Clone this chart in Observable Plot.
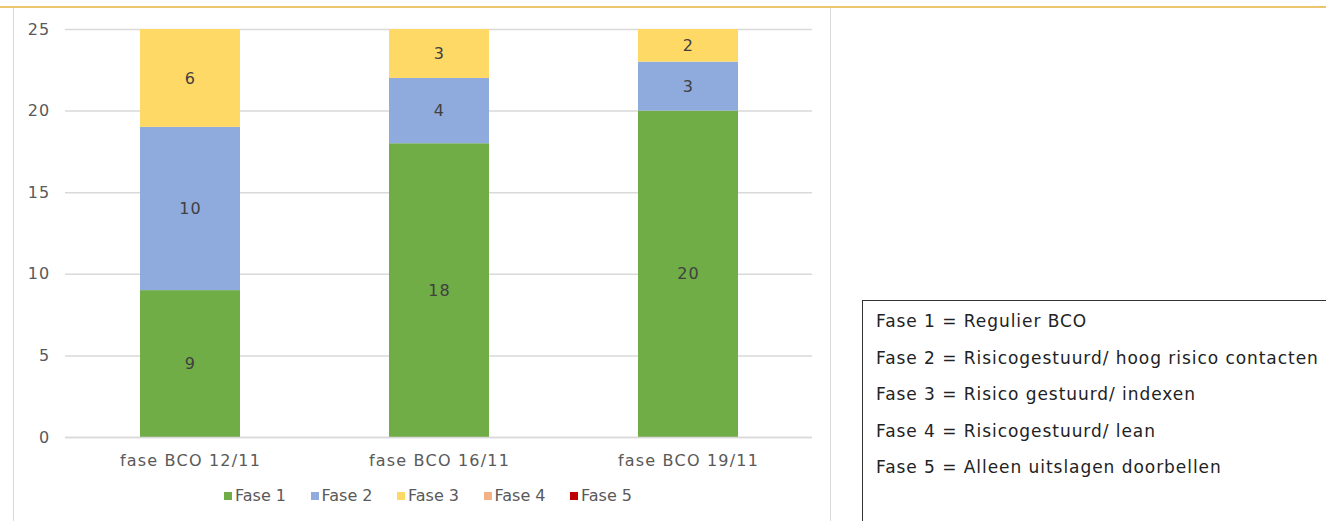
<!DOCTYPE html>
<html>
<head>
<meta charset="utf-8">
<script src="https://cdn.jsdelivr.net/npm/d3@7"></script>
<script src="https://cdn.jsdelivr.net/npm/@observablehq/plot@0.6"></script>
<style>
  html, body { margin: 0; padding: 0; background: #fff; }
  body { width: 1326px; height: 521px; position: relative; overflow: hidden; font-family: "DejaVu Sans", Verdana, sans-serif; }
  #topline { position: absolute; left: 0; top: 6px; width: 1326px; height: 2px; background: #EBC66E; }
  #lborder { position: absolute; left: 13px; top: 8px; width: 1px; height: 520px; background: #D9D9D9; }
  #rborder { position: absolute; left: 830px; top: 8px; width: 1px; height: 520px; background: #D9D9D9; }
  #chart { position: absolute; left: 0; top: 0; }
  #chart svg text { letter-spacing: 1.2px; }
  #legend { position: absolute; top: 486px; left: 224px; display: flex; font-size: 16px; color: #595959; }
  #legend .item { display: flex; align-items: center; width: 86.5px; white-space: nowrap; }
  #legend .sw { width: 8px; height: 8px; margin-right: 3px; flex: none; }
  #box { position: absolute; left: 862px; top: 300px; width: 500px; height: 260px; border: 1px solid #333; box-sizing: border-box; padding: 2px 0 0 13px; font-size: 17px; letter-spacing: 0.95px; color: #222; }
  #box div { height: 36.5px; line-height: 36.5px; white-space: nowrap; }
</style>
</head>
<body>
<div id="topline"></div>
<div id="lborder"></div>
<div id="rborder"></div>
<div id="chart"></div>
<div id="legend"></div>
<div id="box"></div>
<script>
const categories = ["fase BCO 12/11", "fase BCO 16/11", "fase BCO 19/11"];
const phases = ["Fase 1", "Fase 2", "Fase 3", "Fase 4", "Fase 5"];
const fase1 = [9, 18, 20];
const fase2 = [10, 4, 3];
const fase3 = [6, 3, 2];
const fase4 = [0, 0, 0];
const fase5 = [0, 0, 0];
const colors = ["#70AD47", "#8FAADC", "#FFD966", "#F4B183", "#C00000"];
const yTicks = [0, 5, 10, 15, 20, 25];
const phaseDescriptions = [
  "Fase 1 = Regulier BCO",
  "Fase 2 = Risicogestuurd/ hoog risico contacten",
  "Fase 3 = Risico gestuurd/ indexen",
  "Fase 4 = Risicogestuurd/ lean",
  "Fase 5 = Alleen uitslagen doorbellen"
];

const series = [fase1, fase2, fase3, fase4, fase5];
const data = [];
categories.forEach((c, i) => {
  series.forEach((s, j) => {
    if (s[i] > 0) data.push({category: c, phase: phases[j], value: s[i]});
  });
});

const plot = Plot.plot({
  width: 1326,
  height: 521,
  marginLeft: 65,
  marginRight: 514,
  marginTop: 29,
  marginBottom: 84,
  style: {fontFamily: "'DejaVu Sans', Verdana, sans-serif", fontSize: "16px", color: "#595959", background: "transparent"},
  x: {domain: categories, paddingInner: 0.6, paddingOuter: 0.3, label: null},
  y: {domain: [0, 25], label: null},
  color: {domain: phases, range: colors},
  marks: [
    Plot.gridY(yTicks, {stroke: "#D9D9D9", strokeOpacity: 1, strokeWidth: 1.5}),
    Plot.barY(data, Plot.stackY({x: "category", y: "value", fill: "phase", order: phases})),
    Plot.text(data, Plot.stackY({x: "category", y: "value", z: "phase", order: phases, text: "value", fill: "#404040", fontSize: 16})),
    Plot.axisY(yTicks, {tickSize: 0, tickPadding: 15, fontSize: 16, fill: "#595959", label: null}),
    Plot.axisX({tickSize: 0, tickPadding: 17, fontSize: 16, fill: "#595959", label: null}),
    Plot.ruleY([0], {stroke: "#D9D9D9", strokeWidth: 1.5})
  ]
});
document.getElementById("chart").appendChild(plot);

const legend = document.getElementById("legend");
phases.forEach((p, i) => {
  const item = document.createElement("div");
  item.className = "item";
  const sw = document.createElement("span");
  sw.className = "sw";
  sw.style.background = colors[i];
  const t = document.createElement("span");
  t.textContent = p;
  item.appendChild(sw);
  item.appendChild(t);
  legend.appendChild(item);
});

const box = document.getElementById("box");
phaseDescriptions.forEach(d => {
  const el = document.createElement("div");
  el.textContent = d;
  box.appendChild(el);
});
</script>
</body>
</html>
